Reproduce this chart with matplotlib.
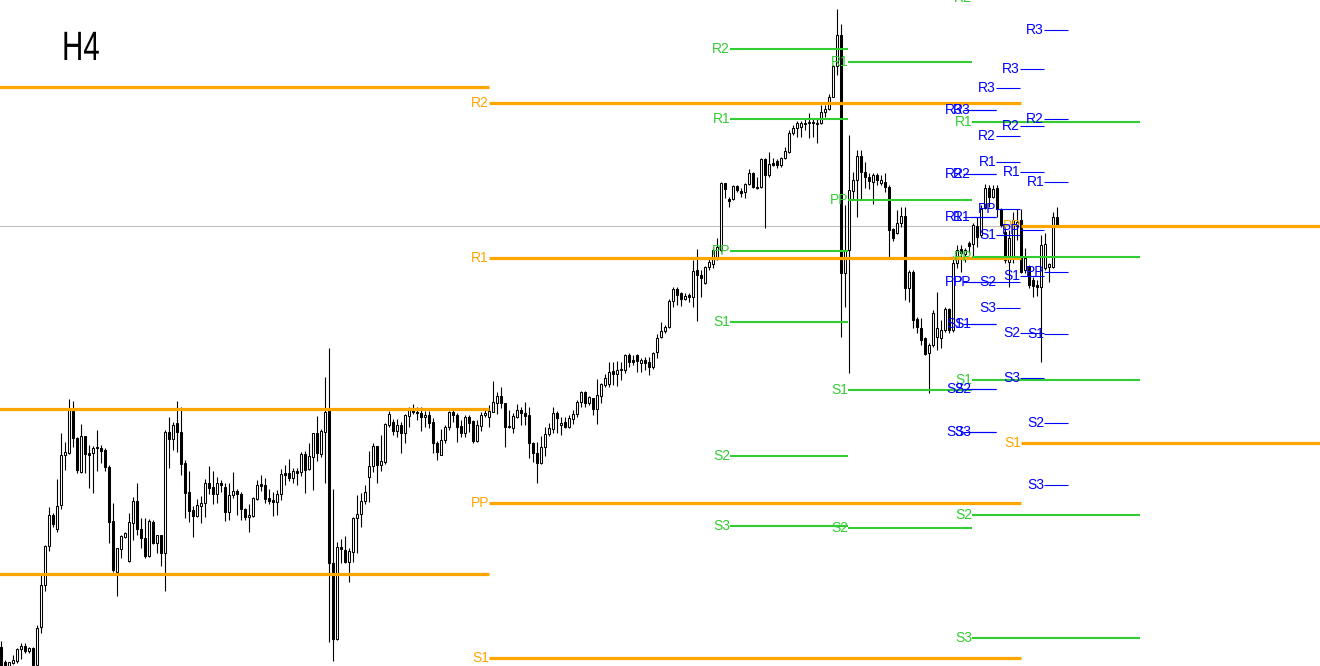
import numpy as np
import matplotlib.pyplot as plt
from matplotlib import patheffects
from matplotlib.transforms import Affine2D

# H4 candles, levels are in chart rows (y axis inverted, smaller = higher price)
o = [647, 662, 666, 663, 661, 649, 646, 651, 648, 665, 627, 585, 546, 515, 529, 505, 455, 453, 411, 438,
     472, 436, 453, 453, 448, 448, 450, 467, 521, 572, 549, 537, 561, 523, 501, 529, 538, 556, 522, 543,
     535, 553, 432, 439, 423, 432, 463, 492, 510, 516, 506, 503, 483, 487, 494, 483, 487, 512, 495, 491,
     494, 509, 517, 516, 499, 484, 485, 498, 500, 502, 494, 473, 473, 478, 471, 472, 454, 469, 457, 433,
     454, 432, 410, 563, 639, 547, 550, 562, 552, 518, 514, 501, 477, 466, 446, 465, 462, 425, 422, 431,
     425, 433, 416, 410, 412, 413, 417, 415, 422, 443, 455, 440, 427, 412, 415, 426, 433, 417, 421, 441,
     426, 415, 417, 412, 403, 396, 403, 427, 428, 417, 410, 413, 415, 443, 453, 463, 447, 434, 429, 413,
     425, 422, 427, 419, 414, 402, 392, 403, 398, 409, 396, 385, 384, 371, 374, 370, 370, 355, 360, 355,
     363, 360, 362, 367, 352, 337, 331, 327, 301, 289, 293, 299, 295, 297, 270, 275, 283, 267, 264, 257,
     250, 183, 199, 199, 186, 191, 192, 184, 173, 187, 187, 159, 175, 163, 161, 165, 158, 152, 133, 128,
     127, 123, 123, 122, 123, 123, 112, 109, 97, 66, 35, 273, 250, 191, 180, 156, 172, 177, 182, 175,
     183, 182, 187, 229, 233, 223, 216, 288, 272, 319, 328, 338, 353, 345, 337, 338, 330, 309, 330, 263,
     249, 254, 243, 244, 226, 235, 208, 188, 197, 188, 209, 232, 262, 258, 226, 220, 270, 267, 280, 285,
     287, 268, 267, 267, 217]
h = [641, 660, 662, 655, 648, 643, 643, 647, 647, 625, 575, 545, 507, 513, 479, 433, 442, 399, 401, 437,
     424, 436, 445, 446, 430, 445, 448, 465, 503, 548, 535, 532, 513, 497, 483, 518, 518, 519, 520, 535,
     535, 430, 417, 422, 401, 407, 460, 471, 506, 499, 496, 479, 466, 471, 477, 480, 483, 483, 472, 489,
     492, 508, 504, 497, 480, 475, 478, 489, 492, 490, 469, 465, 459, 468, 468, 452, 451, 443, 433, 416,
     429, 377, 348, 489, 542, 539, 536, 548, 517, 495, 493, 485, 451, 443, 446, 435, 423, 411, 419, 419,
     422, 414, 407, 404, 407, 407, 411, 411, 418, 441, 429, 425, 411, 410, 413, 420, 415, 415, 420, 420,
     412, 410, 405, 381, 392, 387, 403, 410, 413, 404, 407, 402, 407, 442, 442, 436, 427, 423, 407, 411,
     417, 417, 415, 410, 400, 391, 391, 396, 398, 379, 383, 374, 362, 362, 361, 362, 354, 353, 355, 354,
     358, 357, 357, 352, 334, 322, 325, 299, 287, 287, 292, 293, 293, 260, 249, 270, 266, 258, 247, 238,
     182, 183, 197, 185, 185, 188, 183, 169, 172, 177, 158, 158, 152, 158, 159, 157, 147, 130, 125, 121,
     121, 119, 113, 118, 119, 105, 105, 94, 65, 9, 24, 205, 135, 172, 150, 150, 162, 173, 173, 173,
     175, 173, 185, 228, 210, 207, 207, 270, 270, 317, 318, 337, 343, 310, 292, 320, 307, 308, 256, 245,
     245, 248, 241, 223, 217, 205, 184, 185, 185, 185, 208, 227, 230, 212, 209, 209, 248, 265, 277, 280,
     235, 233, 263, 212, 207]
l = [668, 668, 668, 664, 663, 659, 653, 653, 667, 666, 633, 591, 551, 527, 532, 509, 470, 454, 447, 473,
     473, 473, 488, 493, 471, 463, 471, 543, 572, 596, 558, 538, 562, 540, 535, 548, 558, 557, 544, 553,
     566, 591, 468, 450, 452, 475, 518, 522, 537, 517, 523, 517, 494, 504, 503, 492, 521, 520, 498, 515,
     520, 520, 532, 517, 500, 491, 503, 504, 516, 515, 500, 485, 481, 483, 485, 476, 493, 470, 490, 461,
     457, 483, 642, 661, 640, 563, 563, 582, 562, 553, 527, 504, 502, 472, 483, 471, 464, 427, 435, 437,
     453, 443, 427, 414, 420, 431, 427, 428, 453, 460, 455, 443, 430, 422, 442, 437, 437, 432, 443, 442,
     431, 417, 427, 412, 414, 408, 447, 428, 433, 418, 425, 425, 458, 462, 483, 464, 456, 436, 433, 433,
     435, 428, 428, 424, 417, 407, 407, 405, 415, 424, 403, 387, 387, 385, 386, 380, 373, 367, 365, 372,
     372, 370, 375, 369, 358, 338, 333, 328, 307, 305, 306, 300, 302, 307, 321, 297, 284, 270, 268, 260,
     252, 198, 207, 200, 192, 197, 198, 185, 188, 189, 188, 228, 177, 166, 168, 167, 159, 153, 135, 137,
     137, 130, 138, 137, 143, 124, 117, 110, 97, 75, 337, 307, 373, 200, 217, 199, 188, 189, 204, 185,
     185, 192, 257, 241, 234, 227, 300, 302, 328, 333, 345, 355, 393, 347, 350, 348, 332, 333, 332, 268,
     272, 262, 253, 257, 247, 237, 209, 207, 198, 217, 227, 263, 287, 263, 240, 273, 273, 288, 297, 296,
     362, 270, 282, 268, 227]
c = [666, 665, 662, 660, 649, 646, 651, 648, 665, 628, 585, 546, 515, 524, 506, 455, 452, 410, 438, 470,
     436, 454, 455, 448, 447, 451, 467, 522, 570, 548, 536, 533, 522, 501, 529, 538, 556, 521, 543, 535,
     553, 432, 439, 425, 432, 464, 493, 511, 516, 505, 503, 483, 488, 494, 483, 485, 512, 495, 491, 494,
     509, 517, 515, 498, 485, 486, 499, 501, 502, 494, 474, 475, 478, 471, 473, 454, 470, 456, 433, 453,
     431, 412, 563, 639, 547, 549, 562, 551, 518, 514, 501, 492, 466, 446, 465, 461, 424, 414, 431, 425,
     433, 415, 410, 412, 413, 417, 415, 423, 443, 452, 440, 427, 412, 415, 427, 433, 417, 423, 441, 425,
     415, 413, 411, 402, 396, 403, 427, 426, 416, 410, 413, 416, 443, 453, 463, 447, 434, 428, 413, 418,
     423, 427, 418, 414, 402, 392, 403, 397, 409, 395, 384, 378, 372, 374, 370, 369, 355, 362, 362, 361,
     360, 363, 367, 353, 338, 331, 327, 301, 289, 295, 299, 296, 297, 271, 275, 278, 267, 262, 250, 247,
     183, 189, 201, 186, 190, 193, 184, 173, 187, 188, 159, 175, 164, 165, 165, 158, 151, 133, 128, 123,
     123, 124, 122, 123, 123, 112, 109, 97, 66, 35, 273, 250, 190, 180, 156, 172, 177, 181, 175, 180,
     180, 187, 230, 238, 223, 216, 288, 272, 320, 327, 340, 354, 345, 313, 328, 330, 309, 330, 263, 250,
     253, 250, 246, 225, 237, 209, 188, 197, 189, 209, 225, 260, 238, 220, 222, 272, 258, 285, 286, 287,
     245, 244, 264, 217, 226]

# pivot sets: monthly (orange), weekly (green), daily (blue); start/end in bars
# first monthly set starts before the visible window, its labels are off-chart
month_start = [-10, 122, 255]
month_end = [122, 255, 340]
month_names = [["", "", ""], ["R2", "R1", "PP", "S1"], ["PP", "S1"]]
month_levels = [[87, 409, 574], [103, 258, 503, 658], [226, 443]]

week_start = [182.25, 211.75, 242.75]
week_end = [211.75, 242.75, 284.75]
week_names = [["R2", "R1", "PP", "S1", "S2", "S3"], ["R1", "PP", "S1", "S2"],
              ["R2", "R1", "PP", "S1", "S2", "S3"]]
week_levels = [[49, 119, 251, 322, 456, 526], [62, 200, 390, 528], [-2, 122, 257, 380, 515, 638]]

day_start = [240.5, 242.5, 248.75, 254.75, 260.75]
day_end = [248.75, 248.75, 254.75, 260.75, 266.75]
day_names = ["R3", "R2", "R1", "PP", "S1", "S2", "S3"]
day_levels = [[110, 174, 217, 282, 324, 389, 432],
              [110, 174, 217, 282, 324, 389, 432],
              [88, 136, 162, 209, 235, 282, 308],
              [69, 126, 172, 230, 276, 333, 378],
              [30, 119, 182, 272, 334, 423, 485]]

bid = 226


class Narrow(patheffects.AbstractPathEffect):
    # squeeze glyphs sideways around x0 (display px) - no narrow font installed
    def __init__(self, x0, sx):
        super().__init__()
        self.x0, self.sx = x0, sx

    def draw_path(self, renderer, gc, tpath, affine, rgbFace=None):
        sq = Affine2D().translate(-self.x0, 0).scale(self.sx, 1).translate(self.x0, 0)
        renderer.draw_path(gc, tpath, affine + sq, rgbFace)


fig = plt.figure(figsize=(13.2, 6.66), dpi=100)
ax = fig.add_axes([0, 0, 1, 1])
ax.set_xlim(-0.25, 329.75)
ax.set_ylim(666, 0)
ax.axis('off')

ax.axhline(bid, color='#c0c0c0', lw=0.8, zorder=1)

# candles
x = np.arange(len(o))
oa, ca = np.array(o), np.array(c)
bull = ca <= oa
ax.vlines(x, h, l, color='black', lw=0.8, zorder=2)
ax.bar(x, np.maximum(np.abs(oa - ca), 0.8), bottom=np.minimum(oa, ca), width=0.5,
       color=np.where(bull, 'white', 'black'), edgecolor='black', linewidth=0.75, zorder=3)


def pivots(starts, ends, names, levels, color, lw):
    for s, e, nm, lv in zip(starts, ends, names, levels):
        for n, y in zip(nm, lv):
            ax.plot([s, e], [y, y], color=color, lw=lw, solid_capstyle='butt', zorder=4)
            if n:
                ax.text(s, y, n, color=color, fontsize=10, family='Liberation Sans',
                        ha='right', va='center', zorder=5, clip_on=True)


pivots(month_start, month_end, month_names, month_levels, '#FFA500', 2.3)
pivots(week_start, week_end, week_names, week_levels, '#32CD32', 1.5)
pivots(day_start, day_end, [day_names] * len(day_start), day_levels, '#0000FF', 0.8)

ax.text(62 / 1320, 1 - 60 / 666, 'H4', transform=ax.transAxes, fontsize=29.5,
        family='Liberation Sans', va='baseline', ha='left',
        path_effects=[Narrow(62, 0.72)])

fig.savefig('out.png', dpi=100)
